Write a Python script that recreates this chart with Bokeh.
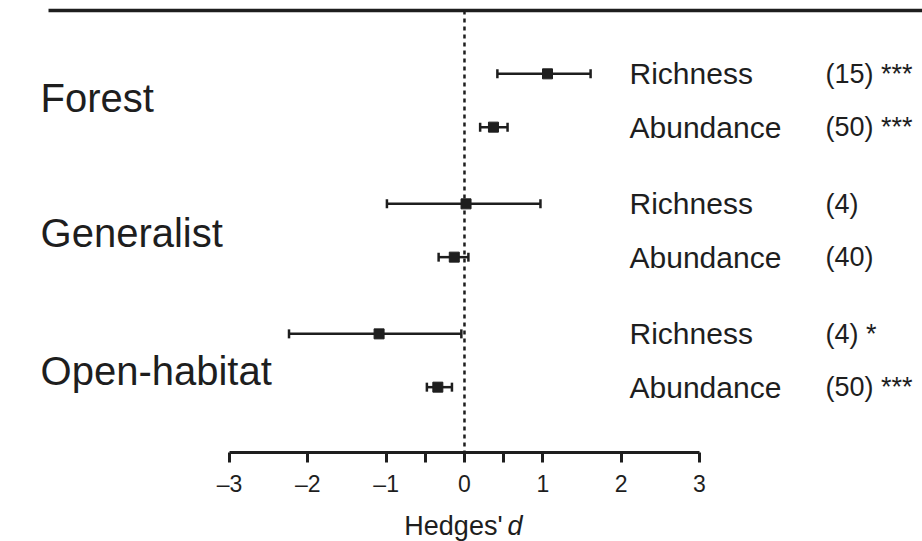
from bokeh.plotting import figure
from bokeh.models import (Range1d, FixedTicker, Whisker, TeeHead,
                          ColumnDataSource)
from bokeh.core.properties import value
from bokeh.embed import file_html
from bokeh.resources import INLINE

# ---------------- data ----------------
groups = ["Forest", "Generalist", "Open-habitat"]
measures = ["Richness", "Abundance", "Richness", "Abundance", "Richness", "Abundance"]
group_of_row = [0, 0, 1, 1, 2, 2]
estimate = [1.06, 0.37, 0.02, -0.13, -1.09, -0.34]
ci_low = [0.42, 0.20, -0.99, -0.33, -2.24, -0.48]
ci_high = [1.61, 0.55, 0.97, 0.05, -0.04, -0.16]
counts = ["(15) ***", "(50) ***", "(4)", "(40)", "(4) *", "(50) ***"]
x_ticks = [-3, -2, -1, 0, 1, 2, 3]
x_minor_ticks = [-0.5, 0.5]
x_title = "Hedges'"
x_title_italic = "d"

# ---------------- layout constants ----------------
FONT = "Liberation Sans"
INK = "#1e1e1e"
ROW_OFF = 0.205
row_y = [g + (-ROW_OFF if m == "Richness" else ROW_OFF)
         for g, m in zip(group_of_row, measures)]
group_label_y = [g + d for g, d in zip(range(3), [-0.02, 0.02, 0.08])]
TOP_Y = -0.692
AXIS_Y = 2.708
TITLE_Y = 3.27

W, H = 922, 541
p = figure(width=W, height=H, output_backend="svg", toolbar_location=None,
           x_range=Range1d(-5.923, 5.847), y_range=Range1d(3.392, -0.769),
           y_axis_location=None, min_border_left=0, min_border_right=0,
           min_border_top=0, min_border_bottom=0)
p.outline_line_color = None
p.grid.visible = False
p.background_fill_color = "white"
p.border_fill_color = "white"

ax = p.xaxis[0]
ax.fixed_location = AXIS_Y
ax.ticker = FixedTicker(ticks=x_ticks, minor_ticks=x_minor_ticks)
ax.bounds = (-3, 3)
ax.axis_line_width = 3
ax.axis_line_color = INK
ax.major_tick_line_width = 3
ax.minor_tick_line_width = 3
ax.major_tick_line_color = INK
ax.minor_tick_line_color = INK
ax.major_tick_in = 0
ax.major_tick_out = 10
ax.minor_tick_in = 0
ax.minor_tick_out = 10
ax.major_label_text_font = FONT
ax.major_label_text_font_size = "23px"
ax.major_label_text_color = INK
ax.major_label_standoff = 8
ax.major_label_overrides = {t: (str(t) if t >= 0 else "\u2013" + str(-t)) for t in x_ticks}

# top rule
p.segment(x0=[-5.31], y0=[TOP_Y], x1=[5.847], y1=[TOP_Y],
          line_color=INK, line_width=3.5)

# zero line (from the top rule down to the axis)
p.segment(x0=[0], y0=[TOP_Y], x1=[0], y1=[AXIS_Y],
          line_color=INK, line_width=2.5, line_dash="4 4")

src = ColumnDataSource(dict(y=row_y, est=estimate, lo=ci_low, hi=ci_high,
                            measure=measures, n=counts))

# error bars
wh = Whisker(source=src, base="y", lower="lo", upper="hi", dimension="width",
             line_color=INK, line_width=2.5,
             lower_head=TeeHead(size=9, line_width=2.5, line_color=INK),
             upper_head=TeeHead(size=9, line_width=2.5, line_color=INK))
p.add_layout(wh)
p.scatter(x="est", y="y", source=src, marker="square", size=10,
          fill_color=INK, line_color=INK)

# row labels
p.text(x=2.107, y="y", text="measure", source=src, text_font=value(FONT),
       text_font_size=value("30px"), text_baseline="middle", text_align="left",
       text_color=INK)
p.text(x=4.609, y="y", text="n", source=src, text_font=value(FONT),
       text_font_size=value("27px"), text_baseline="middle", text_align="left",
       text_color=INK)

# group labels
p.text(x=[-5.412] * 3, y=group_label_y, text=groups, text_font=value(FONT),
       text_font_size=value("40px"), text_baseline="middle", text_align="left",
       text_color=INK)

# axis title with italic d
p.text(x=[0.486], y=[TITLE_Y], text=[x_title], text_font=value(FONT),
       text_font_size=value("27px"), text_align="right",
       text_baseline="middle", text_color=INK)
p.text(x=[0.55], y=[TITLE_Y], text=[x_title_italic], text_font=value(FONT),
       text_font_size=value("27px"), text_font_style="italic",
       text_align="left", text_baseline="middle", text_color=INK)

open("out.html", "w").write(file_html(p, INLINE))
